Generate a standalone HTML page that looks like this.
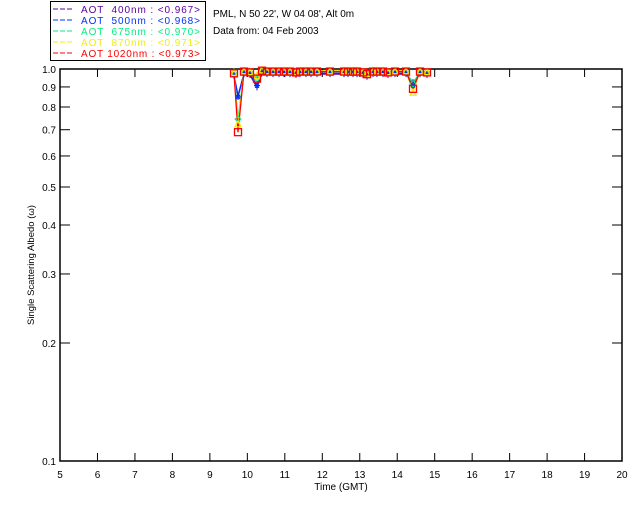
<!DOCTYPE html>
<html><head><meta charset="utf-8"><style>
body{margin:0;background:#fff;width:640px;height:512px;overflow:hidden}
svg{display:block;font-family:"Liberation Sans",sans-serif;font-size:10px}
</style></head><body>
<svg id="s" width="640" height="512" xmlns="http://www.w3.org/2000/svg">
<rect width="640" height="512" fill="#fff"/>
<rect x="50.5" y="1.5" width="155" height="59" fill="none" stroke="#000"/>
<g font-size="10">
<line x1="53" y1="9" x2="74" y2="9" stroke="#6000a0" stroke-dasharray="5,2"/><text x="81" y="13" fill="#6000a0" textLength="119" xml:space="preserve">AOT  400nm : &lt;0.967&gt;</text>
<line x1="53" y1="20" x2="74" y2="20" stroke="#0030ff" stroke-dasharray="5,2"/><text x="81" y="24" fill="#0030ff" textLength="119" xml:space="preserve">AOT  500nm : &lt;0.968&gt;</text>
<line x1="53" y1="31" x2="74" y2="31" stroke="#00ee80" stroke-dasharray="5,2"/><text x="81" y="35" fill="#00ee80" textLength="119" xml:space="preserve">AOT  675nm : &lt;0.970&gt;</text>
<line x1="53" y1="42" x2="74" y2="42" stroke="#f0f000" stroke-dasharray="5,2"/><text x="81" y="46" fill="#f0f000" textLength="119" xml:space="preserve">AOT  870nm : &lt;0.971&gt;</text>
<line x1="53" y1="53" x2="74" y2="53" stroke="#ff0000" stroke-dasharray="5,2"/><text x="81" y="57" fill="#ff0000" textLength="119" xml:space="preserve">AOT 1020nm : &lt;0.973&gt;</text>
</g>
<text x="213" y="17">PML, N 50 22', W 04 08', Alt 0m</text>
<text x="213" y="34">Data from: 04 Feb 2003</text>
<rect x="60" y="69" width="562" height="392" fill="none" stroke="#000" stroke-width="1.5"/>
<g id="ax" stroke="#000"></g>
<g id="lb" text-anchor="middle"></g>
<text x="341" y="490" text-anchor="middle">Time (GMT)</text>
<text transform="translate(34,265) rotate(-90)" text-anchor="middle" font-size="9.5">Single Scattering Albedo (ω)</text>
<g id="d"></g>
</svg>
<script>
var NS="http://www.w3.org/2000/svg";
function el(p,t,a,txt){var e=document.createElementNS(NS,t);for(var k in a)e.setAttribute(k,a[k]);if(txt!==undefined)e.textContent=txt;document.getElementById(p).appendChild(e);return e;}
function X(t){return 60+(t-5)*37.47;}
function Y(v){return 461-392*Math.log10(v/0.1);}
for(var h=5;h<=20;h++){var x=X(h);
 if(h>5&&h<20){el("ax","line",{x1:x,y1:461,x2:x,y2:453});el("ax","line",{x1:x,y1:69,x2:x,y2:77});}
 el("lb","text",{x:x,y:478},""+h);}
var yv=[0.1,0.2,0.3,0.4,0.5,0.6,0.7,0.8,0.9,1.0];
yv.forEach(function(v){var y=Y(v);
 if(v>0.1&&v<1){el("ax","line",{x1:60,y1:y,x2:70,y2:y});el("ax","line",{x1:622,y1:y,x2:612,y2:y});}
 el("lb","text",{x:56,y:y+4,"text-anchor":"end"},v.toFixed(1));});
var px=[234,238,244,250,257,262,267,273,279,284,290,296,300,306,311,317,330,344,348,353,357,363,367,373,377,383,388,395,406,413,420,427];
var base=[0.975,0.69,0.985,0.98,0.945,0.99,0.985,0.985,0.985,0.985,0.985,0.98,0.985,0.985,0.985,0.985,0.985,0.985,0.985,0.985,0.985,0.98,0.97,0.985,0.985,0.985,0.98,0.985,0.985,0.89,0.985,0.98];
var cols=["#6000a0","#0030ff","#00ee80","#f0f000","#ff0000"];
var off=[0.985,0.99,1.0,1.005,1.0];
var dipmul={1:[1.24,1.23,1.08,1.05,1],29:[1.04,1.02,1.03,0.98,1]};
var pts=[];
cols.forEach(function(c,i){var pp=px.map(function(x,j){var m=dipmul[j]?dipmul[j][i]:off[i];if(j==4)m=[0.95,0.96,1.0,1.02,1.0][i];return [x,Y(Math.min(base[j]*m,0.995))];});pts.push(pp);
 el("d","polyline",{points:pp.map(function(p){return p.join(",")}).join(" "),fill:"none",stroke:c,"stroke-width":1.3});});
pts.forEach(function(pp,i){var c=cols[i];pp.forEach(function(p){var x=p[0],y=p[1];
 if(i==4)el("d","rect",{x:x-3.5,y:y-3.5,width:7,height:7,fill:"none",stroke:c,"stroke-width":1.3});
 else if(i==3)el("d","path",{d:"M"+(x-3)+","+(y+3)+"L"+x+","+(y-3)+"L"+(x+3)+","+(y+3)+"Z",fill:"none",stroke:c,"stroke-width":1.3});
 else if(i==2)el("d","path",{d:"M"+(x-3)+","+y+"L"+x+","+(y-3)+"L"+(x+3)+","+y+"L"+x+","+(y+3)+"Z",fill:"none",stroke:c});
 else if(i==1)el("d","path",{d:"M"+(x-3)+","+y+"H"+(x+3)+"M"+x+","+(y-3)+"V"+(y+3)+"M"+(x-2)+","+(y-2)+"L"+(x+2)+","+(y+2)+"M"+(x-2)+","+(y+2)+"L"+(x+2)+","+(y-2),stroke:c,"stroke-width":1.2});
 else el("d","path",{d:"M"+x+","+(y-3)+"V"+(y+3)+"M"+(x-2)+","+y+"H"+(x+2),stroke:c});
});});
</script>
</body></html>
